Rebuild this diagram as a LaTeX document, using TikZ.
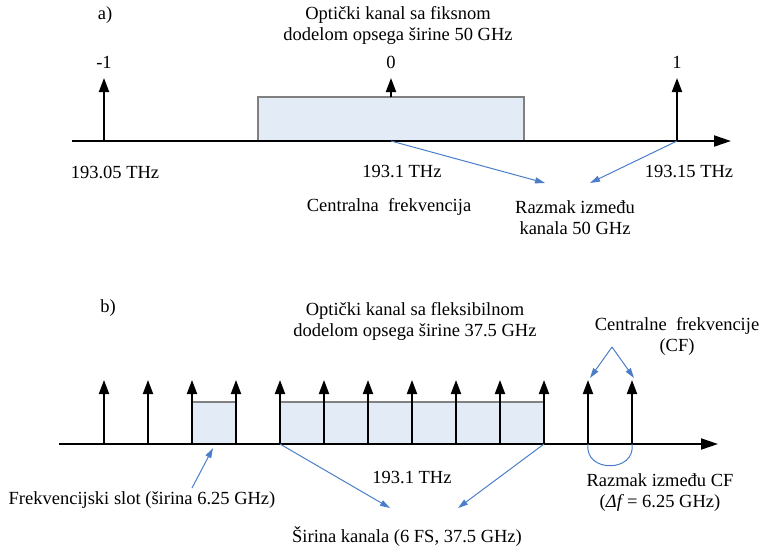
\documentclass[tikz,border=0pt]{standalone}
\usepackage{fontspec}
\setmainfont{Liberation Serif}
\usetikzlibrary{arrows.meta}
\definecolor{bandblue}{HTML}{E3EBF6}
\definecolor{bandgray}{HTML}{808080}
\definecolor{callblue}{HTML}{4A7EC9}
\tikzset{
  lbl/.style={inner sep=0pt, font=\fontsize{18.5}{21}\selectfont, align=center},
  axisline/.style={line width=2pt, -{Triangle[length=17pt,width=11pt]}},
  stem/.style={line width=2pt, -{Triangle[length=14pt,width=10pt]}},
  band/.style={fill=bandblue, draw=bandgray, line width=1.5pt},
  callout/.style={draw=callblue, line width=1pt, -{Triangle[length=10pt,width=6pt]}},
  pt/.style={inner sep=0pt, minimum size=0pt}
}
\begin{document}
\begin{tikzpicture}[x=1pt,y=-1pt]
\useasboundingbox (0,0) rectangle (763,547);
% ---------- panel a ----------
\node[lbl] (la) at (105,15) {a)};
\node[lbl] (titleA) at (398,25) {Optički kanal sa fiksnom\\dodelom opsega širine 50 GHz};
\coordinate (a0) at (72,141);
\coordinate (aend) at (731,141);
\draw[band] (258,141) rectangle (524,97);
\draw[axisline] (a0) -- (aend);
\coordinate (am1) at (104,141);
\coordinate (am1t) at (104,78);
\coordinate (az) at (391,141);
\coordinate (azb) at (391,97);
\coordinate (azt) at (391,78);
\coordinate (ap1) at (677,141);
\coordinate (ap1t) at (677,78);
\draw[stem] (am1) -- (am1t);
\draw[stem] (azb) -- (azt);
\draw[stem] (ap1) -- (ap1t);
\node[lbl] (nm1) at (104,62) {-1};
\node[lbl] (n0) at (391,62) {0};
\node[lbl] (np1) at (677,62) {1};
\node[lbl] (fa1) at (115,172) {193.05 THz};
\node[lbl] (fa2) at (402,172) {193.1 THz};
\node[lbl] (fa3) at (689,172) {193.15 THz};
\node[lbl] (cfa) at (389,207) {Centralna\ \ frekvencija};
\node[lbl] (raz) at (575,218) {Razmak između\\kanala 50 GHz};
\coordinate (rz1) at (545,183);
\coordinate (rz2) at (590,183);
\draw[callout] (az) -- (rz1);
\draw[callout] (ap1) -- (rz2);
% ---------- panel b ----------
\node[lbl] (lb) at (108,308) {b)};
\node[lbl] (titleB) at (415,321) {Optički kanal sa fleksibilnom\\dodelom opsega širine 37.5 GHz};
\node[lbl] (cfb) at (677,336) {Centralne\ \ frekvencije\\(CF)};
\coordinate (b0) at (59,444);
\coordinate (bend) at (718,444);
\draw[band] (192,444) rectangle (236,402);
\draw[band] (280,444) rectangle (544,402);
\draw[axisline] (b0) -- (bend);
\foreach \i in {0,...,12}{
  \coordinate (s\i) at ({104+44*\i},444);
  \coordinate (t\i) at ({104+44*\i},380);
  \draw[stem] (s\i) -- (t\i);
}
\node[lbl] (fb) at (412,477) {193.1 THz};
\node[lbl] (razb) at (660,493) {Razmak između CF\\(\textit{Δf}\,= 6.25 GHz)};
\node[lbl] (slot) at (142,500) {Frekvencijski slot (širina 6.25 GHz)};
\node[lbl] (sir) at (407,537) {Širina kanala (6 FS, 37.5 GHz)};
\coordinate (cfs) at (612,347);
\coordinate (cft1) at (590,378);
\coordinate (cft2) at (634,378);
\draw[callout] (cfs) -- (cft1);
\draw[callout] (cfs) -- (cft2);
\coordinate (sls) at (192,488);
\coordinate (slt) at (213,448);
\draw[callout] (sls) -- (slt);
\coordinate (sw1) at (390,508);
\coordinate (sw2) at (458,508);
\draw[callout] (s4) -- (sw1);
\draw[callout] (s10) -- (sw2);
\draw[draw=callblue, line width=1pt] (s11) .. controls (584,473) and (636,473) .. (s12);
\end{tikzpicture}
\end{document}
